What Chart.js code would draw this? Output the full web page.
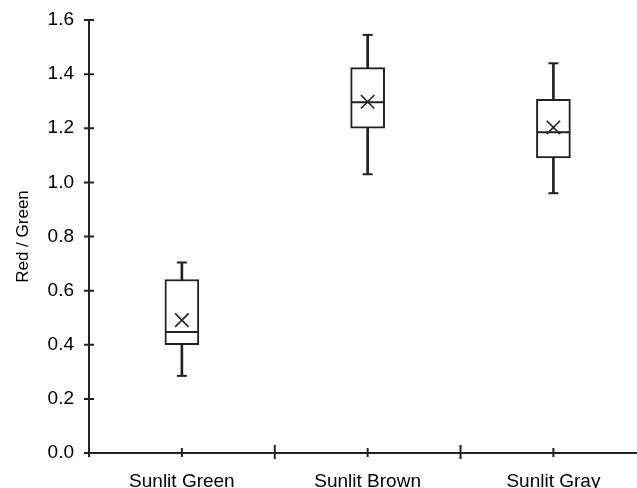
<!DOCTYPE html>
<html>
<head>
<meta charset="utf-8">
<script src="https://cdn.jsdelivr.net/npm/chart.js@4"></script>
<style>
  html, body { margin: 0; padding: 0; background: #fff; overflow: hidden; }
</style>
</head>
<body>
<canvas id="myChart" width="637" height="488"></canvas>
<script>
const categories = ['Sunlit Green', 'Sunlit Brown', 'Sunlit Gray'];
const minValues = [0.285, 1.03, 0.96];
const q1Values = [0.40, 1.20, 1.09];
const medianValues = [0.447, 1.296, 1.185];
const q3Values = [0.641, 1.424, 1.307];
const maxValues = [0.704, 1.545, 1.44];
const meanValues = [0.491, 1.298, 1.203];
const yTickValues = [0, 0.2, 0.4, 0.6, 0.8, 1.0, 1.2, 1.4, 1.6];

const ink = '#222222';
const font = 'Arial, "Liberation Sans", sans-serif';

// category i sits at i + 0.5 on a linear x scale
const pos = categories.map((c, i) => i + 0.5);
const pts = arr => arr.map((v, i) => ({ x: pos[i], y: v }));

// ticks that cross the axis lines, like the original
const crossTicks = {
    id: 'crossTicks',
    afterDraw(chart) {
        const { ctx, chartArea, scales } = chart;
        const x = scales.x, y = scales.y;
        ctx.save();
        ctx.strokeStyle = ink;
        ctx.lineWidth = 2;
        ctx.beginPath();
        yTickValues.forEach(v => {
            const py = y.getPixelForValue(v);
            ctx.moveTo(chartArea.left - 5, py);
            ctx.lineTo(chartArea.left + 5, py);
        });
        ctx.moveTo(chartArea.left, chartArea.bottom);
        ctx.lineTo(chartArea.left, chartArea.bottom + 4);
        for (let i = 1; i <= categories.length; i++) {
            const px = x.getPixelForValue(i);
            if (px > chartArea.right) continue;
            ctx.moveTo(px, chartArea.bottom - 8);
            ctx.lineTo(px, chartArea.bottom + 6);
        }
        pos.forEach(v => {
            const px = x.getPixelForValue(v);
            ctx.moveTo(px, chartArea.bottom - 5);
            ctx.lineTo(px, chartArea.bottom + 4);
        });
        ctx.stroke();
        ctx.restore();
    }
};

const ctx = document.getElementById('myChart');

new Chart(ctx, {
    type: 'bar',
    data: {
        datasets: [
            {
                type: 'scatter',
                label: 'mean',
                data: pts(meanValues),
                pointStyle: 'crossRot',
                radius: 9.5,
                borderColor: ink,
                borderWidth: 1.6,
                order: 0
            },
            {
                type: 'scatter',
                label: 'median',
                data: pts(medianValues),
                pointStyle: 'line',
                radius: 16,
                borderColor: ink,
                borderWidth: 2,
                order: 1
            },
            {
                type: 'scatter',
                label: 'caps',
                data: pts(minValues).concat(pts(maxValues)),
                pointStyle: 'line',
                radius: 5,
                borderColor: ink,
                borderWidth: 2,
                order: 2
            },
            {
                label: 'box',
                data: pos.map((p, i) => ({ x: p, y: [q1Values[i], q3Values[i]] })),
                backgroundColor: '#ffffff',
                borderColor: ink,
                borderWidth: 2,
                borderSkipped: false,
                barThickness: 34,
                grouped: false,
                order: 3
            },
            {
                label: 'whisker',
                data: pos.map((p, i) => ({ x: p, y: [minValues[i], maxValues[i]] })),
                backgroundColor: ink,
                borderWidth: 0,
                barThickness: 2,
                grouped: false,
                order: 4
            }
        ]
    },
    options: {
        responsive: false,
        devicePixelRatio: 1,
        animation: false,
        layout: { autoPadding: false, padding: { top: 20, right: 0, left: 0, bottom: 0 } },
        plugins: {
            legend: { display: false },
            tooltip: { enabled: false }
        },
        scales: {
            x: {
                type: 'linear',
                min: 0,
                max: 2.95,
                offset: false,
                grid: { display: false, drawTicks: false, offset: false },
                border: { display: true, color: ink, width: 2 },
                afterBuildTicks: scale => {
                    scale.ticks = pos.map(v => ({ value: v }));
                },
                afterFit: scale => {
                    scale.height = 35;
                    scale.paddingLeft = 0;
                    scale.paddingRight = 0;
                },
                ticks: {
                    padding: 17,
                    color: '#000',
                    font: { family: font, size: 19 },
                    maxRotation: 0,
                    autoSkip: false,
                    callback: (v) => {
                        const i = pos.indexOf(v);
                        return i >= 0 ? categories[i] : '';
                    }
                }
            },
            y: {
                min: 0,
                max: 1.6,
                grid: { display: false, drawTicks: false },
                border: { display: true, color: ink, width: 2 },
                afterBuildTicks: scale => {
                    scale.ticks = yTickValues.map(v => ({ value: v }));
                },
                afterFit: scale => {
                    scale.width = 89;
                    scale.paddingTop = 0;
                    scale.paddingBottom = 0;
                },
                ticks: {
                    padding: 15,
                    color: '#000',
                    font: { family: font, size: 19 },
                    callback: v => v.toFixed(1)
                },
                title: {
                    display: true,
                    text: 'Red / Green',
                    color: '#000',
                    font: { family: font, size: 17 },
                    padding: { top: 13, bottom: 0 }
                }
            }
        }
    },
    plugins: [crossTicks]
});
</script>
</body>
</html>
